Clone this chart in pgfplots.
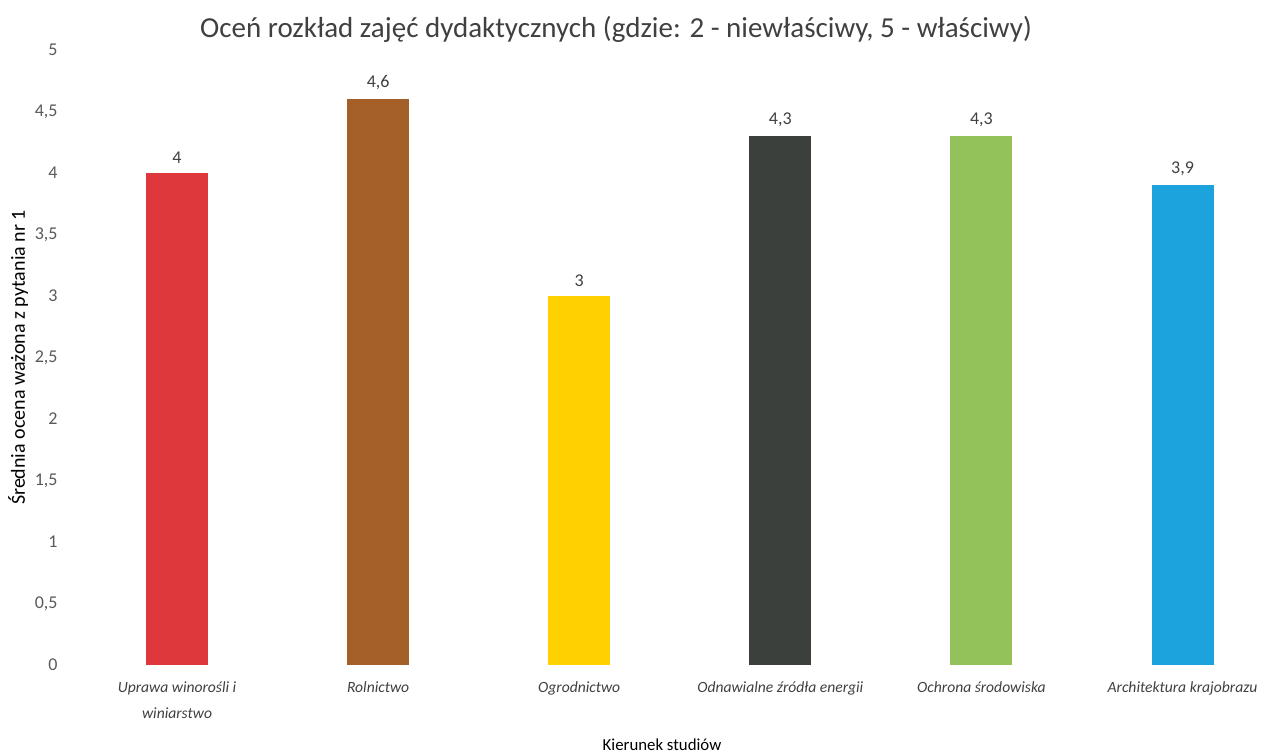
\documentclass[border=0pt]{standalone}
\usepackage{pgfplots}
\pgfplotsset{compat=1.18}
\usepackage{fontspec}
\setmainfont{Carlito}
\definecolor{c1}{HTML}{DE383C}
\definecolor{c2}{HTML}{A5602A}
\definecolor{c3}{HTML}{FFD100}
\definecolor{c4}{HTML}{3B403D}
\definecolor{c5}{HTML}{93C25B}
\definecolor{c6}{HTML}{1CA2DC}
\definecolor{txt}{HTML}{595959}
\definecolor{dtxt}{HTML}{404040}
\begin{document}
\begin{tikzpicture}
\path[use as bounding box] (0,0) rectangle (638.5bp,378bp);
\begin{axis}[
  at={(38.25bp,45.5bp)}, anchor=south west,
  scale only axis, width=600.25bp, height=307.5bp,
  xmin=-0.5, xmax=5.47, ymin=0, ymax=5,
  axis line style={draw=none},
  tick style={draw=none},
  major tick length=0pt,
  ybar, bar width=31bp, bar shift=0pt,
  ytick={0,0.5,1,1.5,2,2.5,3,3.5,4,4.5,5},
  xtick={0,1,2,3,4,5},
  xticklabels={{Uprawa winorośli i\\winiarstwo},Rolnictwo,Ogrodnictwo,Odnawialne źródła energii,Ochrona środowiska,Architektura krajobrazu},
  /pgf/number format/use comma,
  /pgf/number format/assume math mode=true,
  yticklabel style={font=\fontsize{9bp}{11bp}\selectfont, color=txt, anchor=east, inner sep=0pt, xshift=-9.25bp},
  xticklabel style={font=\fontsize{7.8bp}{13bp}\selectfont\itshape, color=dtxt, anchor=north, inner sep=0pt, yshift=-8bp, align=center},
  title={Oceń rozkład zajęć dydaktycznych (gdzie: 2 - niewłaściwy, 5 - właściwy)},
  title style={font=\fontsize{14.5bp}{16bp}\selectfont, color=dtxt, at={(axis description cs:0.4494,1)}, anchor=center, yshift=4.5bp},
  ylabel={Średnia ocena ważona z pytania nr 1},
  ylabel style={font=\fontsize{10bp}{12bp}\selectfont, color=black, at={(axis description cs:-0.0487,0.5)}, anchor=center},
  xlabel={Kierunek studiów},
  xlabel style={font=\fontsize{8.4bp}{10bp}\selectfont, color=black, at={(axis description cs:0.4877,0)}, anchor=center, yshift=-40bp},
  nodes near coords,
  nodes near coords style={font=\fontsize{9bp}{11bp}\selectfont, color=dtxt, anchor=south, inner sep=0pt, yshift=4.5bp},
]
\addplot[fill=c1, draw=none] coordinates {(0,4)};
\addplot[fill=c2, draw=none] coordinates {(1,4.6)};
\addplot[fill=c3, draw=none] coordinates {(2,3)};
\addplot[fill=c4, draw=none] coordinates {(3,4.3)};
\addplot[fill=c5, draw=none] coordinates {(4,4.3)};
\addplot[fill=c6, draw=none] coordinates {(5,3.9)};
\end{axis}
\end{tikzpicture}
\end{document}
